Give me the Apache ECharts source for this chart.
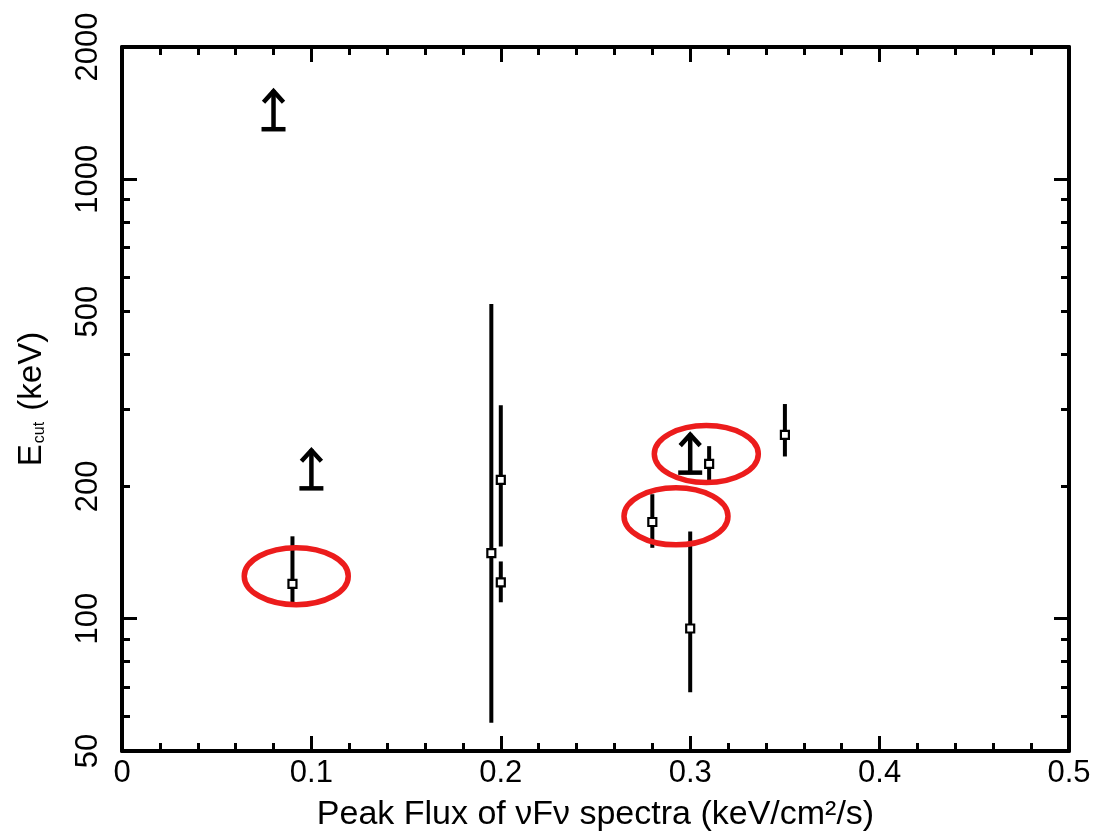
<!DOCTYPE html>
<html>
<head>
<meta charset="utf-8">
<script src="https://cdn.jsdelivr.net/npm/echarts@6/dist/echarts.min.js"></script>
<style>
  html, body { margin: 0; padding: 0; background: #fff; }
  #chart { width: 1097px; height: 837px; }
</style>
</head>
<body>
<div id="chart"></div>
<script>
// Peak flux of the νFν spectrum (x) against cutoff energy E_cut (y, log scale)
const pointX  = [0.09, 0.195, 0.2, 0.2, 0.28, 0.3, 0.31, 0.35];
const pointY  = [120, 141, 207, 121, 166, 95, 225, 262];
const pointLo = [108, 58, 146, 109, 145, 68, 205, 234];
const pointHi = [154, 520, 306, 135, 192, 158, 247, 308];

// lower limits on E_cut
const limitX = [0.08, 0.1, 0.3];
const limitY = [1300, 198, 215];

// highlighted sources (ellipse centres)
const ringX = [0.092, 0.2925, 0.3085];
const ringY = [125, 171, 237];

// y tick values
const yLabelValues = [50, 100, 200, 500, 1000, 2000];
const yMajorTicks = [100, 1000];
const yMinorTicks = [60, 70, 80, 90, 200, 300, 400, 500, 600, 700, 800, 900];

const FONT = "'Liberation Sans', Arial, Helvetica, sans-serif";
const lg = v => Math.log10(v);
const Y_MIN = 50, Y_MAX = 2000;

const chart = echarts.init(document.getElementById('chart'), null, { renderer: 'canvas' });

function decoAxis(position, opts) {
  return Object.assign({
    type: 'value',
    position: position,
    min: lg(Y_MIN),
    max: lg(Y_MAX),
    axisLine: { show: false, onZero: false },
    axisTick: { show: false },
    axisLabel: { show: false },
    splitLine: { show: false }
  }, opts);
}

const tickStyle = { color: '#000', width: 3 };
const frameStyle = { color: '#000', width: 4 };

const option = {
  backgroundColor: '#fff',
  animation: false,
  grid: { left: 122, right: 28, top: 47, bottom: 85, containLabel: false },
  xAxis: [
    {
      type: 'value', position: 'bottom', min: 0, max: 0.5, interval: 0.1,
      axisLine: { show: true, onZero: false, lineStyle: frameStyle },
      axisTick: { show: true, inside: true, length: 15, lineStyle: tickStyle },
      minorTick: { show: true, splitNumber: 5, length: 8, lineStyle: tickStyle },
      splitLine: { show: false },
      minorSplitLine: { show: false },
      axisLabel: { margin: 7, color: '#000', fontSize: 31, fontFamily: FONT },
      name: 'Peak Flux of νFν spectra (keV/cm²/s)',
      nameLocation: 'middle', nameGap: 47,
      nameTextStyle: { color: '#000', fontSize: 34, fontFamily: FONT }
    },
    {
      type: 'value', position: 'top', min: 0, max: 0.5, interval: 0.1,
      axisLine: { show: true, onZero: false, lineStyle: frameStyle },
      axisTick: { show: true, inside: true, length: 15, lineStyle: tickStyle },
      minorTick: { show: true, splitNumber: 5, length: 8, lineStyle: tickStyle },
      splitLine: { show: false },
      minorSplitLine: { show: false },
      axisLabel: { show: false }
    }
  ],
  yAxis: [
    {
      type: 'log', logBase: 10, position: 'left', min: Y_MIN, max: Y_MAX,
      axisLine: { show: true, onZero: false, lineStyle: frameStyle },
      axisTick: { show: false },
      axisLabel: { show: false },
      splitLine: { show: false },
      minorSplitLine: { show: false },
      name: '{e|E}{s|cut}{e| (keV)}',
      nameLocation: 'middle', nameGap: 74, nameRotate: 90,
      nameTextStyle: {
        color: '#000', fontFamily: FONT,
        rich: {
          e: { fontSize: 33, fontFamily: FONT, color: '#000' },
          s: { fontSize: 16, fontFamily: FONT, color: '#000', verticalAlign: 'bottom', padding: [0, 2, 0, 1] }
        }
      }
    },
    decoAxis('left', {
      axisTick: { show: true, inside: true, length: 15, lineStyle: tickStyle, customValues: yMajorTicks.map(lg) },
      axisLabel: {
        show: true, rotate: 90, margin: 18, color: '#000', fontSize: 31, fontFamily: FONT,
        customValues: yLabelValues.map(lg),
        formatter: v => String(Math.round(Math.pow(10, v)))
      }
    }),
    decoAxis('left', {
      axisTick: { show: true, inside: true, length: 8, lineStyle: tickStyle, customValues: yMinorTicks.map(lg) }
    }),
    decoAxis('right', {
      axisLine: { show: true, onZero: false, lineStyle: frameStyle },
      axisTick: { show: true, inside: true, length: 15, lineStyle: tickStyle, customValues: yMajorTicks.map(lg) }
    }),
    decoAxis('right', {
      axisTick: { show: true, inside: true, length: 8, lineStyle: tickStyle, customValues: yMinorTicks.map(lg) }
    })
  ],
  series: [
    {
      // measured points with vertical error bars
      type: 'custom',
      xAxisIndex: 0, yAxisIndex: 0,
      data: pointX.map((x, i) => [x, pointY[i], pointLo[i], pointHi[i]]),
      renderItem: (params, api) => {
        const x = api.value(0);
        const c = api.coord([x, api.value(1)]);
        const lo = api.coord([x, api.value(2)]);
        const hi = api.coord([x, api.value(3)]);
        return {
          type: 'group',
          children: [
            { type: 'line', shape: { x1: lo[0], y1: lo[1], x2: hi[0], y2: hi[1] },
              style: { stroke: '#000', lineWidth: 4 } },
            { type: 'rect', shape: { x: c[0] - 4, y: c[1] - 4, width: 8, height: 8 },
              style: { fill: '#fff', stroke: '#000', lineWidth: 2.2 } }
          ]
        };
      },
      z: 3
    },
    {
      // lower-limit arrows
      type: 'custom',
      xAxisIndex: 0, yAxisIndex: 0,
      data: limitX.map((x, i) => [x, limitY[i]]),
      renderItem: (params, api) => {
        const c = api.coord([api.value(0), api.value(1)]);
        const tip = c[1] - 40;
        const st = { stroke: '#000', lineWidth: 4.5, fill: null, lineJoin: 'miter' };
        return {
          type: 'group',
          children: [
            { type: 'line', shape: { x1: c[0] - 12, y1: c[1], x2: c[0] + 12, y2: c[1] }, style: st },
            { type: 'line', shape: { x1: c[0], y1: c[1], x2: c[0], y2: tip + 1 }, style: st },
            { type: 'polyline', shape: { points: [[c[0] - 10, tip + 13], [c[0], tip + 2], [c[0] + 10, tip + 13]] }, style: st }
          ]
        };
      },
      z: 3
    },
    {
      // red rings around highlighted sources
      type: 'custom',
      xAxisIndex: 0, yAxisIndex: 0,
      data: ringX.map((x, i) => [x, ringY[i]]),
      renderItem: (params, api) => {
        const c = api.coord([api.value(0), api.value(1)]);
        return {
          type: 'ellipse',
          shape: { cx: c[0], cy: c[1], rx: 52, ry: 28.5 },
          style: { fill: null, stroke: '#ec1c1c', lineWidth: 5.5 }
        };
      },
      z: 4
    }
  ]
};

chart.setOption(option);
</script>
</body>
</html>
